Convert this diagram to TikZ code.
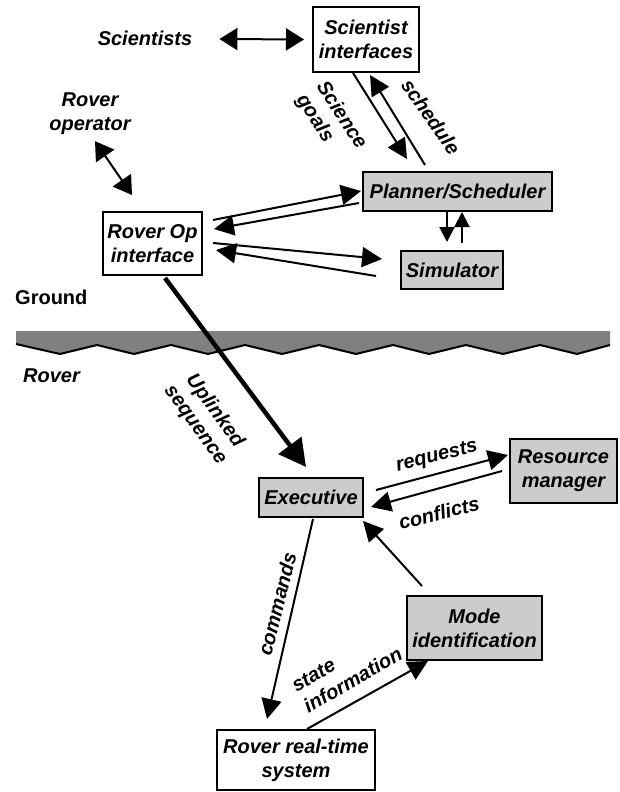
\documentclass[tikz,border=0pt]{standalone}
\usepackage{fontspec}
\setmainfont{Liberation Sans}
\usetikzlibrary{arrows.meta,calc}
\definecolor{boxgray}{RGB}{204,204,204}
\definecolor{bandgray}{RGB}{128,128,128}
\tikzset{
  bx/.style={draw=black, line width=2pt, align=center, inner sep=1pt, fill=white},
  gbx/.style={bx, fill=boxgray},
  lbl/.style={inner sep=0pt, align=center},
  arr/.style={line width=2pt, -{Triangle[length=20pt,width=20pt]}},
  sarr/.style={line width=2pt, -{Triangle[length=15pt,width=15pt]}},
  dbl/.style={line width=2pt, {Triangle[length=18pt,width=22pt]}-{Triangle[length=18pt,width=22pt]}},
  bigarr/.style={line width=4.5pt, -{Triangle[length=27pt,width=28pt]}}
}
\begin{document}
\begin{tikzpicture}[x=1pt,y=-1pt,font=\fontsize{20}{24}\selectfont\bfseries\itshape]
\useasboundingbox (0,0) rectangle (620,792);

% ground band
\fill[bandgray] (16,331) -- (610,331) -- (610,345)
  -- (577,354) -- (540,345) -- (503,354) -- (466,345) -- (429,354) -- (393,345)
  -- (356,354) -- (319,345) -- (282,354) -- (245,345) -- (208,354) -- (171,345)
  -- (134,354) -- (97,345) -- (60,354) -- (16,344) -- cycle;
\draw[line width=2pt, line join=round] (16,344) -- (60,354) -- (97,345) -- (134,354) -- (171,345)
  -- (208,354) -- (245,345) -- (282,354) -- (319,345) -- (356,354) -- (393,345)
  -- (429,354) -- (466,345) -- (503,354) -- (540,345) -- (577,354) -- (610,345);

% labels
\node[lbl] (sci) at (145,38) {Scientists};
\node[lbl] (rop) at (90,114) {Rover\\operator};
\node[lbl, anchor=west, font=\fontsize{20}{24}\selectfont\bfseries] (ground) at (15,297) {Ground};
\node[lbl, anchor=west] (rover) at (23,376) {Rover};

% boxes
\node[bx, minimum width=106pt, minimum height=65pt] (sciif) at (366,39.5) {Scientist\\interfaces};
\node[gbx, minimum width=189pt, minimum height=39pt] (plan) at (457.5,191.5) {Planner/Scheduler};
\node[gbx, minimum width=102pt, minimum height=38pt] (sim) at (452,270) {Simulator};
\node[bx, minimum width=99pt, minimum height=63pt] (ropif) at (152.5,243.5) {Rover Op\\interface};
\node[gbx, minimum width=104pt, minimum height=39pt] (exec) at (311,497.5) {Executive};
\node[gbx, minimum width=107pt, minimum height=64pt] (res) at (563.5,471) {Resource\\manager};
\node[gbx, minimum width=135pt, minimum height=64pt] (mode) at (474.5,628) {Mode\\identification};
\node[bx, minimum width=158pt, minimum height=60pt] (rts) at (296,760) {Rover real-time\\system};

% connectors
\draw[dbl] ($(sci.east)+(27,1)$) -- ($(sciif.west)+(-8,0)$);
\draw[arr] ($(sciif.south)+(-13,0)$) -- ($(plan.north)+(-50.5,-12)$);
\draw[arr] ($(plan.north)+(-32.5,-6)$) -- ($(sciif.south)+(4,2)$);
\draw[dbl] ($(rop.south)+(5,6)$) -- ($(ropif.north)+(-20.5,-16)$);
\draw[arr] ($(ropif.east)+(10,-23.5)$) -- ($(plan.west)+(-1,-0.5)$);
\draw[arr] ($(plan.west)+(-3,11.5)$) -- ($(ropif.east)+(11,-14.5)$);
\draw[arr] ($(ropif.east)+(10,-0.5)$) -- ($(sim.west)+(-18,-11)$);
\draw[arr] ($(sim.west)+(-24,6)$) -- ($(ropif.east)+(13,6.5)$);
\draw[sarr] ($(plan.south)+(-10.5,0)$) -- ($(sim.north)+(-5,-8)$);
\draw[sarr] ($(sim.north)+(10,-7)$) -- ($(plan.south)+(4.5,0)$);
\draw[bigarr] ($(ropif.south)+(12.5,2)$) -- ($(exec.north)+(-5,-10)$);
\draw[arr] ($(exec.east)+(12,-7.5)$) -- ($(res.west)+(-1,-16)$);
\draw[arr] ($(res.west)+(-7,0)$) -- ($(exec.east)+(7,9.5)$);
\draw[arr] ($(exec.south)+(2,1)$) -- ($(rts.north)+(-29,-10)$);
\draw[arr] ($(mode.north)+(-52.5,-9)$) -- ($(exec.south east)+(-1,3)$);
\draw[arr] ($(rts.north)+(11,0)$) -- ($(mode.south)+(-46.5,0)$);

% connector labels
\node[lbl, align=left, rotate=-57] (lgoals) at (331,122) {Science\\goals};
\node[lbl, rotate=-55] (lsched) at (431,117) {schedule};
\node[lbl, rotate=-54] (lupl) at (205,418) {Uplinked\\sequence};
\node[lbl, rotate=14] (lreq) at (437,457) {requests};
\node[lbl, rotate=14] (lconf) at (439,513) {conflicts};
\node[lbl, rotate=76] (lcmd) at (277,604) {commands};
\node[lbl, align=left, rotate=30] (lstate) at (347,670) {state\\information};
\end{tikzpicture}
\end{document}
